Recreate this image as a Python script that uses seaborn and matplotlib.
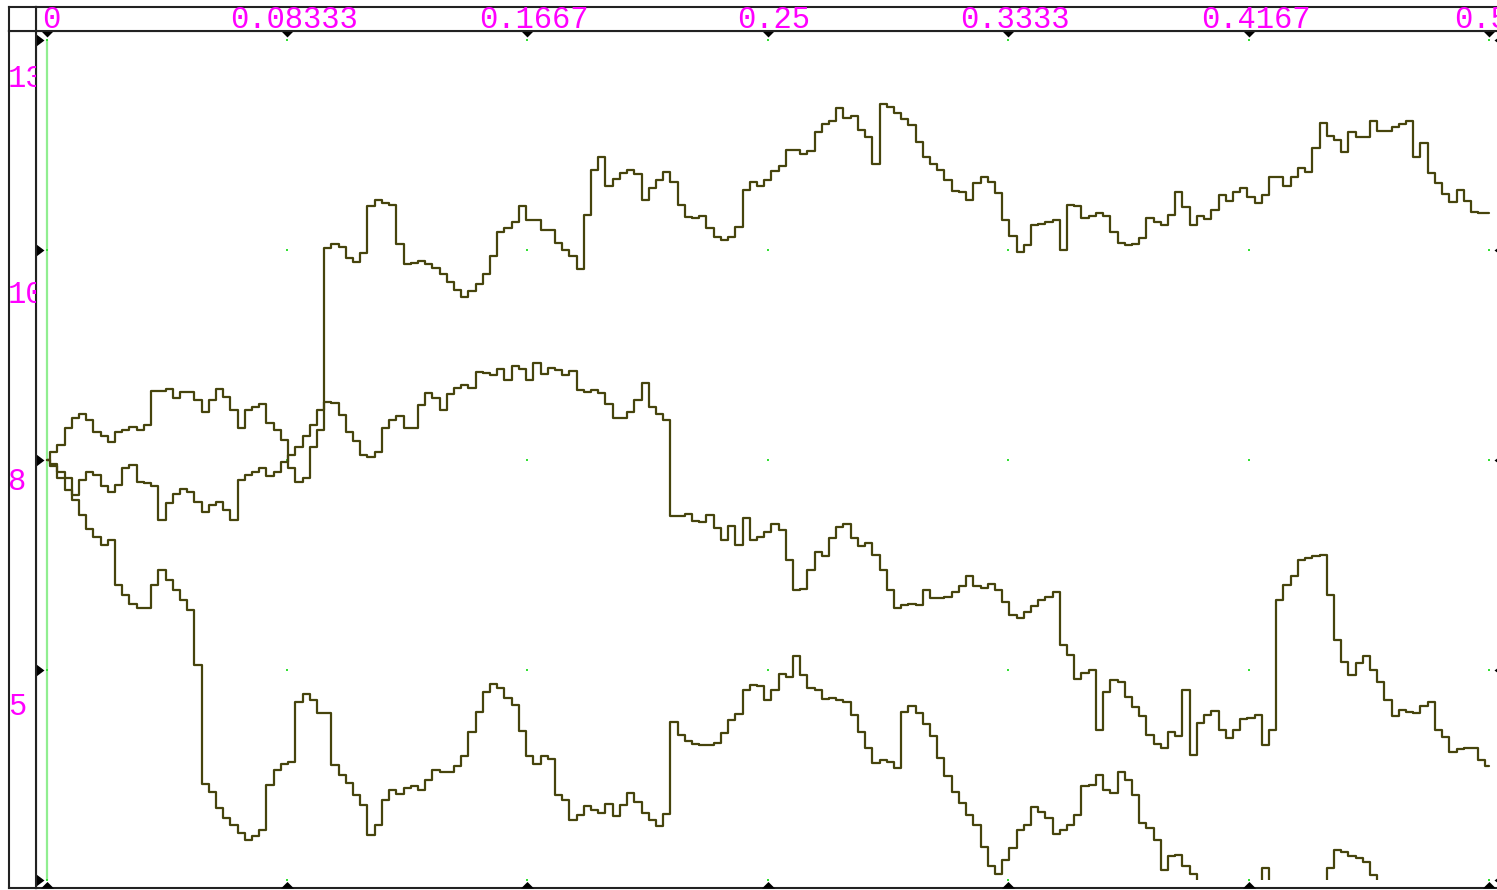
import numpy as np
import pandas as pd
import matplotlib
matplotlib.use("Agg")
import matplotlib.pyplot as plt
import matplotlib.transforms as mtransforms
from matplotlib.patches import Rectangle
import seaborn as sns

# ---------------- data ----------------
x_ticks = [0, 1 / 12, 2 / 12, 3 / 12, 4 / 12, 5 / 12, 6 / 12]
x_tick_labels = ["0", "0.08333", "0.1667", "0.25", "0.3333", "0.4167", "0.5"]
y_ticks = [12.5, 10.0, 7.5, 5.0]
y_tick_labels = ["13", "10", "8", "5"]
y_marks = [2.5, 5.0, 7.5, 10.0, 12.5]
t_end = 0.5

path_a = [7.50, 7.60, 7.68, 7.88, 8.00, 8.05, 7.98, 7.83, 7.79, 7.71,
          7.83, 7.86, 7.89, 7.86, 7.92, 8.32, 8.32, 8.35, 8.24, 8.31,
          8.31, 8.21, 8.07, 8.21, 8.35, 8.25, 8.10, 7.88, 8.10, 8.13,
          8.17, 7.94, 7.86, 7.74, 7.40, 7.24, 7.29, 7.65, 7.86, 10.02,
          10.07, 10.04, 9.90, 9.86, 9.96, 10.52, 10.60, 10.56, 10.54, 10.07,
          9.83, 9.85, 9.87, 9.83, 9.79, 9.71, 9.62, 9.52, 9.44, 9.51,
          9.60, 9.71, 9.93, 10.21, 10.26, 10.33, 10.52, 10.36, 10.36, 10.24,
          10.24, 10.08, 10.00, 9.93, 9.77, 10.42, 10.95, 11.11, 10.76, 10.85,
          10.92, 10.95, 10.90, 10.60, 10.74, 10.83, 10.93, 10.81, 10.54, 10.39,
          10.38, 10.40, 10.26, 10.15, 10.12, 10.15, 10.27, 10.71, 10.81, 10.76,
          10.83, 10.94, 11.00, 11.19, 11.19, 11.14, 11.18, 11.40, 11.50, 11.54,
          11.69, 11.57, 11.60, 11.43, 11.35, 11.02, 11.74, 11.70, 11.63, 11.56,
          11.49, 11.29, 11.11, 11.02, 10.95, 10.83, 10.70, 10.69, 10.60, 10.80,
          10.87, 10.81, 10.68, 10.36, 10.17, 9.98, 10.06, 10.30, 10.31, 10.33,
          10.36, 10.00, 10.54, 10.52, 10.38, 10.40, 10.44, 10.40, 10.21, 10.08,
          10.06, 10.07, 10.14, 10.38, 10.33, 10.30, 10.42, 10.69, 10.51, 10.30,
          10.40, 10.37, 10.48, 10.65, 10.58, 10.69, 10.74, 10.63, 10.56, 10.65,
          10.87, 10.87, 10.76, 10.87, 10.98, 10.93, 11.21, 11.51, 11.36, 11.31,
          11.17, 11.40, 11.35, 11.35, 11.54, 11.42, 11.42, 11.46, 11.50, 11.54,
          11.11, 11.27, 10.92, 10.80, 10.67, 10.57, 10.71, 10.58, 10.45, 10.44,
          10.44]

path_b = [7.50, 7.43, 7.36, 7.29, 7.08, 7.26, 7.36, 7.32, 7.19, 7.12,
          7.20, 7.40, 7.44, 7.24, 7.23, 7.19, 6.79, 6.99, 7.10, 7.15,
          7.12, 7.00, 6.88, 6.96, 7.00, 6.90, 6.79, 7.26, 7.32, 7.36,
          7.40, 7.31, 7.36, 7.48, 7.56, 7.65, 7.79, 7.92, 8.10, 8.19,
          8.18, 8.04, 7.83, 7.73, 7.56, 7.54, 7.60, 7.88, 7.98, 8.02,
          7.88, 7.88, 8.15, 8.30, 8.24, 8.10, 8.29, 8.36, 8.39, 8.36,
          8.55, 8.54, 8.51, 8.58, 8.45, 8.62, 8.58, 8.45, 8.65, 8.52,
          8.60, 8.57, 8.51, 8.56, 8.33, 8.31, 8.33, 8.30, 8.17, 8.00,
          8.00, 8.07, 8.21, 8.42, 8.13, 8.05, 7.98, 6.83, 6.83, 6.86,
          6.77, 6.76, 6.85, 6.69, 6.55, 6.71, 6.49, 6.81, 6.55, 6.58,
          6.64, 6.74, 6.67, 6.31, 5.95, 5.96, 6.19, 6.40, 6.36, 6.57,
          6.70, 6.74, 6.57, 6.48, 6.51, 6.37, 6.19, 5.95, 5.74, 5.77,
          5.79, 5.77, 5.95, 5.86, 5.86, 5.87, 5.93, 6.00, 6.12, 6.00,
          5.98, 6.02, 5.95, 5.81, 5.65, 5.62, 5.69, 5.76, 5.83, 5.87,
          5.93, 5.30, 5.18, 4.89, 4.96, 5.00, 4.29, 4.74, 4.88, 4.86,
          4.68, 4.56, 4.45, 4.23, 4.12, 4.07, 4.26, 4.21, 4.76, 3.99,
          4.37, 4.46, 4.51, 4.29, 4.19, 4.29, 4.42, 4.43, 4.46, 4.11,
          4.29, 5.83, 6.01, 6.12, 6.31, 6.33, 6.36, 6.37, 5.89, 5.36,
          5.10, 4.94, 5.08, 5.17, 5.00, 4.86, 4.64, 4.45, 4.52, 4.50,
          4.49, 4.57, 4.62, 4.29, 4.20, 4.02, 4.06, 4.07, 4.07, 3.93,
          3.86]

path_c = [7.50, 7.45, 7.29, 7.14, 7.02, 6.85, 6.68, 6.58, 6.49, 6.55,
          6.01, 5.89, 5.79, 5.74, 5.74, 6.01, 6.19, 6.07, 5.95, 5.83,
          5.71, 5.06, 3.64, 3.55, 3.36, 3.24, 3.15, 3.06, 2.98, 3.02,
          3.10, 3.63, 3.81, 3.88, 3.90, 4.62, 4.71, 4.64, 4.49, 4.49,
          3.87, 3.75, 3.65, 3.51, 3.39, 3.04, 3.15, 3.45, 3.57, 3.52,
          3.60, 3.62, 3.57, 3.69, 3.81, 3.79, 3.79, 3.86, 3.98, 4.26,
          4.50, 4.74, 4.83, 4.79, 4.67, 4.58, 4.27, 3.98, 3.88, 3.98,
          3.94, 3.51, 3.45, 3.21, 3.27, 3.38, 3.33, 3.30, 3.40, 3.26,
          3.39, 3.54, 3.43, 3.30, 3.21, 3.14, 3.29, 4.38, 4.23, 4.15,
          4.12, 4.11, 4.11, 4.13, 4.25, 4.40, 4.48, 4.76, 4.82, 4.81,
          4.64, 4.76, 4.95, 4.92, 5.17, 4.94, 4.79, 4.76, 4.65, 4.67,
          4.64, 4.62, 4.46, 4.26, 4.07, 3.89, 3.93, 3.90, 3.83, 4.50,
          4.57, 4.49, 4.36, 4.21, 3.95, 3.74, 3.55, 3.42, 3.27, 3.15,
          2.89, 2.67, 2.57, 2.74, 2.88, 3.10, 3.15, 3.37, 3.31, 3.24,
          3.05, 3.10, 3.15, 3.27, 3.62, 3.63, 3.75, 3.57, 3.54, 3.79,
          3.69, 3.51, 3.18, 3.12, 2.98, 2.62, 2.79, 2.80, 2.67, 2.57,
          2.32, 2.20, 2.14, 2.20, 2.26, 2.29, 2.20, 2.26, 2.38, 2.64,
          2.32, 2.20, 2.08, 2.14, 2.20, 2.26, 2.36, 2.44, 2.64, 2.86,
          2.83, 2.79, 2.76, 2.71, 2.56, 2.32, 2.20, 2.14, 2.08, 2.14,
          2.02, 1.96, 2.02, 2.08, 1.96, 1.90, 1.96, 1.90, 1.85, 1.90,
          1.85]

frames = []
for name, vals in [("A", path_a), ("B", path_b), ("C", path_c)]:
    frames.append(pd.DataFrame({"t": np.linspace(0, t_end, len(vals)),
                                "value": vals, "path": name}))
df = pd.concat(frames, ignore_index=True)

# ---------------- style / layout ----------------
sns.set_style("white")
LINE = "#46440c"
FRAME = "#222222"
MAGENTA = "#ff00ff"
GREEN_DOT = "#33e033"
GREEN_LINE = "#90ee90"
FONT = ["Liberation Mono", "DejaVu Sans Mono"]

W, H = 1497, 890
fig = plt.figure(figsize=(W / 100, H / 100), dpi=100)
fig.patch.set_facecolor("white")


def box(l, t, r, b):
    return [l / W, 1 - b / H, (r - l) / W, (b - t) / H]


PX_T = 2885.0   # pixels per time unit
PX_V = 84.0     # pixels per value unit
X0 = 46.5       # pixel of t = 0

ax = fig.add_axes(box(36, 31, W, 888))
xlim = (-(X0 - 36) / PX_T, (W - X0) / PX_T)
ylim = (2.5 - 8 / PX_V, 12.5 + 9 / PX_V)
ax.set_xlim(*xlim)
ax.set_ylim(*ylim)
ax.set_xticks([])
ax.set_yticks([])
for side in ["left", "top", "bottom"]:
    ax.spines[side].set_visible(True)
    ax.spines[side].set_color(FRAME)
    ax.spines[side].set_linewidth(1.5)
ax.spines["right"].set_visible(False)

# cursor line and grid dots
ax.vlines(x_ticks[0], min(y_marks), max(y_marks), color=GREEN_LINE,
          linewidth=1.6, zorder=1)
gx, gy = np.meshgrid(x_ticks, y_marks)
ax.plot(gx.ravel(), gy.ravel(), ls="none", marker="s", ms=1.6, mew=0,
        color=GREEN_DOT, zorder=1)

# paths
n_before = len(ax.lines)
sns.lineplot(data=df, x="t", y="value", units="path", estimator=None,
             sort=False, color=LINE, linewidth=1.6, ax=ax, legend=False,
             drawstyle="steps-mid", zorder=3)
ax.set_xlabel("")
ax.set_ylabel("")
clip_rect = Rectangle((xlim[0], min(y_marks)), xlim[1] - xlim[0], 20,
                      transform=ax.transData, facecolor="none", edgecolor="none")
for ln in ax.lines[n_before:]:
    ln.set_clip_path(clip_rect)

# tick triangles
tri_down = [(-1, 0), (1, 0), (0, -1)]
tri_up = [(-1, 0), (1, 0), (0, 1)]
tri_right = [(0, -0.75), (0, 0.75), (1, 0)]
tri_left = [(0, -0.75), (0, 0.75), (-1, 0)]
xt_tr = ax.get_xaxis_transform()
yt_tr = ax.get_yaxis_transform()
ax.plot(x_ticks, [1] * len(x_ticks), transform=xt_tr, ls="none",
        marker=tri_down, ms=8.6, mew=0, color="black", clip_on=False, zorder=5)
ax.plot(x_ticks, [0] * len(x_ticks), transform=xt_tr, ls="none",
        marker=tri_up, ms=9.4, mew=0, color="black", clip_on=False, zorder=5)
ax.plot([0] * len(y_marks), y_marks, transform=yt_tr, ls="none",
        marker=tri_right, ms=11.5, mew=0, color="black", clip_on=False, zorder=5)
ax.plot([(1502 - 36) / (W - 36)] * len(y_marks), y_marks, transform=yt_tr,
        ls="none", marker=tri_left, ms=11.5, mew=0, color="black",
        clip_on=False, zorder=5)

# top label strip
axt = fig.add_axes(box(36, 7, W, 31))
axt.set_xlim(*xlim)
axt.set_ylim(0, 1)
axt.set_xticks([])
axt.set_yticks([])
for side in ["left", "top", "bottom"]:
    axt.spines[side].set_color(FRAME)
    axt.spines[side].set_linewidth(1.5)
axt.spines["right"].set_visible(False)
x_label_dx = [5, 7, 7, 6, 7, 7, -8]
base_t = mtransforms.blended_transform_factory(axt.transData, axt.transAxes)
for xv, lab, dx in zip(x_ticks, x_tick_labels, x_label_dx):
    tr = base_t + mtransforms.ScaledTranslation(dx / 100, 0, fig.dpi_scale_trans)
    axt.text(xv, 3 / 24, lab, transform=tr, ha="center", va="baseline",
             color=MAGENTA, fontsize=22, family=FONT, clip_on=True)

# left label strip
axl = fig.add_axes(box(9, 31, 36, 888))
axl.set_xlim(0, 1)
axl.set_ylim(*ylim)
axl.set_xticks([])
axl.set_yticks([])
for side in ["left", "top", "bottom", "right"]:
    axl.spines[side].set_color(FRAME)
    axl.spines[side].set_linewidth(1.5)
y_label_dy = [47, 53, 30, 45]
base_l = mtransforms.blended_transform_factory(axl.transAxes, axl.transData)
for yv, lab, dy in zip(y_ticks, y_tick_labels, y_label_dy):
    tr = base_l + mtransforms.ScaledTranslation(0, -dy / 100, fig.dpi_scale_trans)
    axl.text(-1 / 27, yv, lab, transform=tr, ha="left", va="baseline",
             color=MAGENTA, fontsize=22, family=FONT, clip_on=True)

# corner box
axc = fig.add_axes(box(9, 7, 36, 31))
axc.set_xticks([])
axc.set_yticks([])
for side in ["left", "top", "bottom", "right"]:
    axc.spines[side].set_color(FRAME)
    axc.spines[side].set_linewidth(1.5)

fig.savefig("out.png", dpi=100, facecolor="white")
